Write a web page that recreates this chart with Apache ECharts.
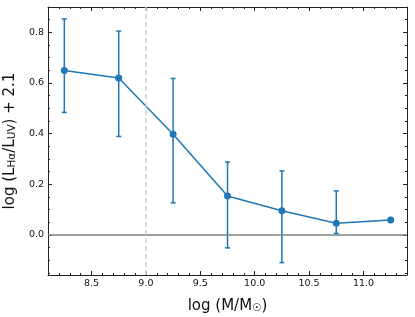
<!DOCTYPE html>
<html><head><meta charset="utf-8">
<script src="https://cdn.jsdelivr.net/npm/echarts@6/dist/echarts.min.js"></script>
<style>html,body{margin:0;padding:0;background:#fff}#c{width:415px;height:317px}</style>
</head><body><div id="c"></div>
<script>
const massBins = [8.25, 8.75, 9.25, 9.75, 10.25, 10.75, 11.25];
const ratio = [0.649, 0.620, 0.398, 0.154, 0.096, 0.046, 0.059];
const errLow = [0.484, 0.389, 0.127, -0.051, -0.109, 0.006, null];
const errHigh = [0.853, 0.805, 0.618, 0.288, 0.253, 0.174, null];
const xTickLabels = [8.5, 9.0, 9.5, 10.0, 10.5, 11.0];
const yTickLabels = [0.0, 0.2, 0.4, 0.6, 0.8];
const xRange = [8.1, 11.4];
const yRange = [-0.158, 0.90];
const massCut = 9.0;

function steps(a, b, s) { const o = []; for (let v = a; v <= b + 1e-9; v += s) o.push(Math.round(v * 1000) / 1000); return o; }
const xMinor = steps(8.2, 11.3, 0.1);
const yMinor = steps(-0.15, 0.9, 0.05);

const C = '#1f77b4';
const font = 'DejaVu Sans';
const gridPos = { left: 48, right: 8, top: 7, bottom: 42, containLabel: false, outerBoundsMode: 'none' };
const nameRich = {
  a: { fontFamily: font, fontSize: 15, color: '#111', lineHeight: 20, verticalAlign: 'bottom' },
  s: { fontFamily: font, fontSize: 10.5, color: '#111', verticalAlign: 'bottom', lineHeight: 15 }
};

function xAx(grid, pos, vals, len, labels, line, extra) {
  return Object.assign({
    type: 'value', gridIndex: grid, position: pos, min: xRange[0], max: xRange[1],
    axisLine: { show: line, onZero: false, lineStyle: { color: '#222', width: 1 } },
    axisTick: { show: true, inside: true, length: len, customValues: vals, lineStyle: { color: '#222', width: 1 } },
    axisLabel: labels ? { show: true, customValues: vals, margin: 4, fontFamily: font, fontSize: 9.5, color: '#111', formatter: v => v.toFixed(1) } : { show: false },
    splitLine: { show: false }
  }, extra || {});
}
function yAx(grid, pos, vals, len, labels, line, extra) {
  return Object.assign({
    type: 'value', gridIndex: grid, position: pos, min: yRange[0], max: yRange[1],
    axisLine: { show: line, onZero: false, lineStyle: { color: '#222', width: 1 } },
    axisTick: { show: true, inside: true, length: len, customValues: vals, lineStyle: { color: '#222', width: 1 } },
    axisLabel: labels ? { show: true, customValues: vals, margin: 4, fontFamily: font, fontSize: 9.5, color: '#111', formatter: v => v.toFixed(1) } : { show: false },
    splitLine: { show: false }
  }, extra || {});
}

const chart = echarts.init(document.getElementById('c'), null, { renderer: 'canvas' });
chart.setOption({
  animation: false,
  grid: [Object.assign({}, gridPos), Object.assign({}, gridPos)],
  xAxis: [
    xAx(0, 'bottom', xTickLabels, 4, true, true, {
      name: '{a|log (M/M}{s|☉}{a|)}', nameLocation: 'middle', nameGap: 19,
      nameTextStyle: { rich: nameRich }
    }),
    xAx(0, 'top', xTickLabels, 4, false, true),
    xAx(1, 'bottom', xMinor, 2, false, false),
    xAx(1, 'top', xMinor, 2, false, false)
  ],
  yAxis: [
    yAx(0, 'left', yTickLabels, 4, true, true, {
      name: '{a|log (L}{s|Hα}{a|/L}{s|UV}{a|) + 2.1}', nameLocation: 'middle', nameGap: 25,
      nameTextStyle: { rich: nameRich }
    }),
    yAx(0, 'right', yTickLabels, 4, false, true),
    yAx(1, 'left', yMinor, 2, false, false),
    yAx(1, 'right', yMinor, 2, false, false)
  ],
  series: [
    {
      type: 'line', xAxisIndex: 0, yAxisIndex: 0, data: [], z: 1, silent: true,
      markLine: {
        symbol: 'none', silent: true, label: { show: false },
        data: [
          { yAxis: 0, lineStyle: { color: '#808080', width: 1.5, type: 'solid' } },
          { xAxis: massCut, lineStyle: { color: '#cfcfcf', width: 1.5, type: [5, 3] } }
        ]
      }
    },
    {
      type: 'custom', xAxisIndex: 0, yAxisIndex: 0, z: 2,
      data: massBins.map((x, i) => [x, errLow[i], errHigh[i]]).filter(d => d[1] !== null),
      renderItem: function (params, api) {
        const lo = api.coord([api.value(0), api.value(1)]);
        const hi = api.coord([api.value(0), api.value(2)]);
        const cw = 2.5;
        const st = { stroke: C, lineWidth: 1.5 };
        return { type: 'group', children: [
          { type: 'line', shape: { x1: lo[0], y1: lo[1], x2: hi[0], y2: hi[1] }, style: st },
          { type: 'line', shape: { x1: lo[0] - cw, y1: lo[1], x2: lo[0] + cw, y2: lo[1] }, style: st },
          { type: 'line', shape: { x1: hi[0] - cw, y1: hi[1], x2: hi[0] + cw, y2: hi[1] }, style: st }
        ] };
      }
    },
    {
      type: 'line', xAxisIndex: 0, yAxisIndex: 0, z: 3,
      data: massBins.map((x, i) => [x, ratio[i]]),
      symbol: 'circle', symbolSize: 7, showSymbol: true,
      lineStyle: { color: C, width: 1.5 }, itemStyle: { color: C }
    }
  ]
});
</script></body></html>
